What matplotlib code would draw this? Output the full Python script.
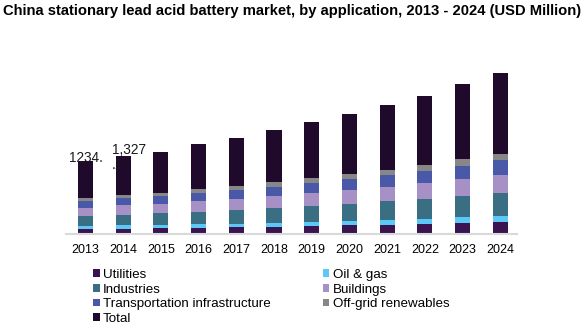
import matplotlib
matplotlib.use("Agg")
import matplotlib.pyplot as plt
from matplotlib.patches import Patch
import numpy as np

plt.rcParams['font.family'] = ['Liberation Sans', 'DejaVu Sans']

years = ['2013', '2014', '2015', '2016', '2017', '2018', '2019', '2020', '2021', '2022', '2023', '2024']
utilities = [180, 185, 205, 205, 240, 240, 270, 305, 305, 340, 375, 410]
oil_gas = [100, 105, 100, 135, 100, 135, 135, 135, 170, 170, 205, 205]
industries = [330, 373, 410, 410, 475, 510, 545, 580, 645, 680, 715, 780]
buildings = [270, 325, 305, 375, 375, 410, 440, 475, 475, 545, 580, 610]
transport = [240, 234, 270, 270, 305, 305, 340, 375, 410, 410, 440, 510]
offgrid = [114, 105, 105, 135, 135, 170, 170, 170, 170, 205, 240, 205]
total = [1234.1, 1327.1, 1410, 1530, 1650, 1770, 1900, 2040, 2210, 2360, 2550, 2750]

series = [
    ('Utilities', utilities, '#3a1450'),
    ('Oil & gas', oil_gas, '#5bc8f5'),
    ('Industries', industries, '#3a6e82'),
    ('Buildings', buildings, '#a690c5'),
    ('Transportation infrastructure', transport, '#4a58a8'),
    ('Off-grid renewables', offgrid, '#878787'),
    ('Total', total, '#1f0a2c'),
]

fig = plt.figure(figsize=(5.84, 3.25), dpi=100)
ax = fig.add_axes([0.113, 0.28, 0.772, 0.597])

x = np.arange(len(years))
bottom = np.zeros(len(years))
handles = {}
for name, vals, col in series:
    ax.bar(x, vals, 0.4, bottom=bottom, color=col, linewidth=0)
    bottom += np.array(vals)
    handles[name] = Patch(facecolor=col, edgecolor='none')

ax.set_xlim(-0.517, 11.44)
ax.set_ylim(0, 6600)
ax.set_yticks([])
ax.set_xticks(x)
ax.set_xticklabels(years, fontsize=9)
ax.tick_params(axis='x', length=0, pad=7)
for s in ['left', 'right', 'top']:
    ax.spines[s].set_visible(False)
ax.spines['bottom'].set_color('#d9d9d9')
ax.spines['bottom'].set_linewidth(1.5)

# data labels
ax.text(0.01, 2600, '1234.', ha='center', va='center', fontsize=9.8, color='#1a1a1a', zorder=5)
ax.text(0.70, 3094, '1,327\n.1', ha='left', va='top', fontsize=9.8, color='#1a1a1a',
        linespacing=1.1, zorder=5)

fig.text(0.5, 0.965, 'China stationary lead acid battery market, by application, 2013 - 2024 (USD Million)',
         ha='center', va='center', fontsize=10.6, fontweight='bold')

order = ['Utilities', 'Industries', 'Transportation infrastructure', 'Total',
         'Oil & gas', 'Buildings', 'Off-grid renewables']
fig.legend([handles[n] for n in order], order, ncol=2, loc='upper left',
           bbox_to_anchor=(93 / 584, 1 - 269 / 325), frameon=False, fontsize=9.6,
           handlelength=0.5, handleheight=0.5, handletextpad=0.25, labelspacing=0.2,
           columnspacing=3.9, borderpad=0, borderaxespad=0)

fig.savefig('out.png', dpi=100)
